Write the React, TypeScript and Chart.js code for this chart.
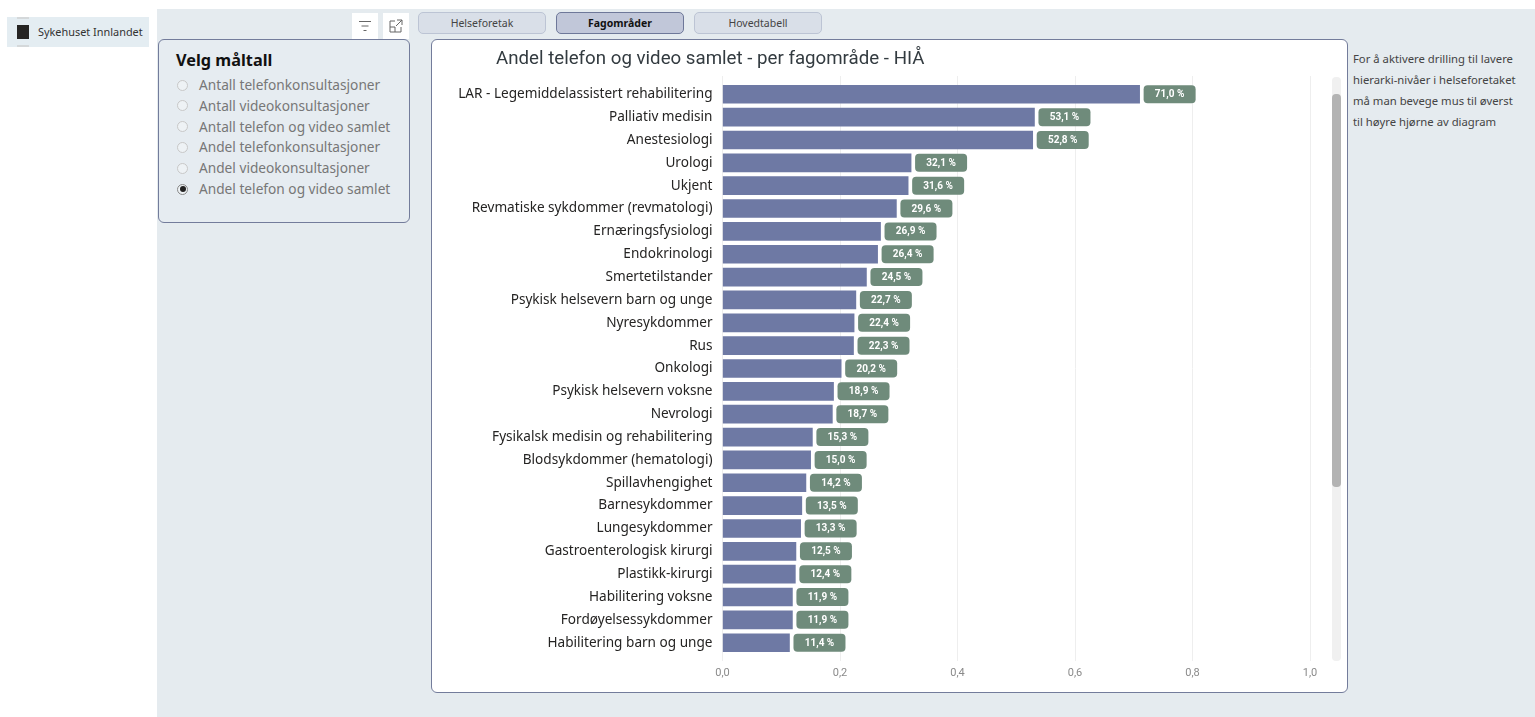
import React, { useEffect, useRef } from "react";
import { Chart, registerables } from "chart.js";

Chart.register(...registerables);

const categories = [
  "LAR - Legemiddelassistert rehabilitering", "Palliativ medisin", "Anestesiologi", "Urologi", "Ukjent",
  "Revmatiske sykdommer (revmatologi)", "Ernæringsfysiologi", "Endokrinologi", "Smertetilstander",
  "Psykisk helsevern barn og unge", "Nyresykdommer", "Rus", "Onkologi", "Psykisk helsevern voksne",
  "Nevrologi", "Fysikalsk medisin og rehabilitering", "Blodsykdommer (hematologi)", "Spillavhengighet",
  "Barnesykdommer", "Lungesykdommer", "Gastroenterologisk kirurgi", "Plastikk-kirurgi",
  "Habilitering voksne", "Fordøyelsessykdommer", "Habilitering barn og unge",
];
const shares = [
  0.71, 0.531, 0.528, 0.321, 0.316, 0.296, 0.269, 0.264, 0.245, 0.227, 0.224, 0.223, 0.202,
  0.189, 0.187, 0.153, 0.15, 0.142, 0.135, 0.133, 0.125, 0.124, 0.119, 0.119, 0.114,
];
const measures = [
  "Antall telefonkonsultasjoner", "Antall videokonsultasjoner", "Antall telefon og video samlet",
  "Andel telefonkonsultasjoner", "Andel videokonsultasjoner", "Andel telefon og video samlet",
];
const tabs = ["Helseforetak", "Fagområder", "Hovedtabell"];
const noteLines = [
  "For å aktivere drilling til lavere", "hierarki-nivåer i helseforetaket",
  "må man bevege mus til øverst", "til høyre hjørne av diagram",
];
const chartTitle = "Andel telefon og video samlet - per fagområde - HIÅ";

const UI = "'Noto Sans', sans-serif";
const box = (l: number, t: number, w: number, h: number): React.CSSProperties => ({
  position: "absolute", left: l, top: t, width: w, height: h, boxSizing: "border-box",
});

const pct = (v: number) => (v * 100).toFixed(1).replace(".", ",") + " %";

const pillPlugin = {
  id: "pills",
  afterDatasetsDraw(chart: any) {
    const { ctx, scales } = chart;
    ctx.save();
    shares.forEach((v, i) => {
      const x = scales.x.getPixelForValue(v) + 4;
      const y = scales.y.getPixelForValue(i);
      ctx.fillStyle = "#6f8b7b";
      ctx.beginPath();
      ctx.roundRect(x, y - 9, 52, 18, 4);
      ctx.fill();
      ctx.fillStyle = "#ffffff";
      ctx.font = "bold 10px Roboto";
      ctx.textAlign = "center";
      ctx.textBaseline = "middle";
      ctx.fillText(pct(v), x + 26, y + 0.5);
    });
    ctx.restore();
  },
};

const titleShift = {
  id: "titleShift",
  afterLayout(chart: any) {
    chart.titleBlock.left = 63;
  },
};

export default function App() {
  const ref = useRef<HTMLCanvasElement>(null);
  useEffect(() => {
    const chart = new Chart(ref.current!, {
      type: "bar",
      data: {
        datasets: [{
          data: shares.map((v, i) => ({ x: v, y: i })) as any,
          backgroundColor: "#6e79a4",
          barThickness: 18,
        }],
      },
      plugins: [pillPlugin, titleShift],
      options: {
        indexAxis: "y",
        animation: false,
        responsive: false,
        devicePixelRatio: 1,
        layout: { padding: { right: 36, top: 0, bottom: 0, left: 0 } },
        plugins: {
          legend: { display: false },
          tooltip: { enabled: false },
          title: {
            display: true,
            text: chartTitle,
            align: "start",
            color: "#333b40",
            font: { family: "Roboto", size: 18.7, weight: "normal", lineHeight: 20 / 18.7 },
            padding: { top: 8, bottom: 7 },
          },
        },
        scales: {
          x: {
            type: "linear",
            min: 0,
            max: 1,
            border: { display: false },
            grid: { color: "#eeeeee", lineWidth: 1, tickLength: 0, drawTicks: false },
            afterBuildTicks(s: any) {
              s.ticks = [0, 0.2, 0.4, 0.6, 0.8, 1].map((value) => ({ value }));
            },
            ticks: {
              color: "#8a8a8a",
              font: { family: "Roboto", size: 11 },
              padding: 6,
              maxRotation: 0,
              callback: (v: any) => Number(v).toFixed(1).replace(".", ","),
            },
            afterFit(s: any) { s.height = 30; },
          },
          y: {
            type: "linear",
            bounds: "data",
            offset: false,
            reverse: true,
            min: -0.8,
            max: 24.8,
            border: { display: false },
            grid: { display: false },
            afterBuildTicks(s: any) {
              s.ticks = categories.map((_, value) => ({ value }));
            },
            ticks: {
              autoSkip: false,
              color: "#252423",
              font: { family: "Noto Sans", size: 13.6 },
              padding: 2,
              callback: (v: any) => categories[Number(v)] ?? "",
            },
            afterFit(s: any) { s.width = 289.5; },
          },
        },
      },
    });
    return () => chart.destroy();
  }, []);

  return (
    <div style={{ position: "fixed", inset: 0, background: "#fff", overflow: "hidden", fontFamily: UI }}>
      <div style={{ ...box(157, 9, 1378, 708), background: "#e5ebef" }} />

      <div style={{ ...box(7, 17, 142, 30), background: "#e4edf2" }} />
      <div style={{ ...box(17, 17, 12, 2), background: "#d4d8da" }} />
      <div style={{ ...box(17, 25, 12, 14), background: "#252423" }} />
      <div style={{ ...box(17, 45, 12, 2), background: "#d4d8da" }} />
      <div style={{ ...box(38, 24, 110, 16), fontSize: 10.9, lineHeight: "16px", color: "#333", whiteSpace: "nowrap" }}>Sykehuset Innlandet</div>

      <div style={{ ...box(352, 13, 26, 26), background: "#fff" }}>
        <svg width="26" height="26" stroke="#666" strokeWidth="1">
          <path d="M7 8.5H19M9.5 13H16.5M11.5 17.5H14.5" />
        </svg>
      </div>
      <div style={{ ...box(383, 13, 26, 26), background: "#fff" }}>
        <svg width="26" height="26" fill="none" stroke="#666" strokeWidth="1">
          <path d="M12 8H7V19H18V14M14 7H19V12M19 7L13 13M7 14H12V19" />
        </svg>
      </div>

      <div style={{ ...box(158, 39, 252, 184), background: "#e6ecf1", border: "1.5px solid #737c9b", borderRadius: 6 }} />
      <div style={{ ...box(176, 49, 200, 22), fontSize: 16.3, fontWeight: 700, lineHeight: "22px", color: "#111" }}>Velg måltall</div>
      {measures.map((m, i) => {
        const y = 85 + i * 20.8;
        const on = i === measures.length - 1;
        return (
          <React.Fragment key={m}>
            <div style={{ ...box(177, y - 5.5, 11, 11), borderRadius: "50%", background: "#eef2f5", border: on ? "1px solid #888" : "1px solid #c8c8c8" }} />
            {on && <div style={{ ...box(179.5, y - 3, 6, 6), borderRadius: "50%", background: "#222" }} />}
            <div style={{ ...box(199, y - 10, 205, 20), fontSize: 13.7, lineHeight: "20px", color: "#777", whiteSpace: "nowrap" }}>{m}</div>
          </React.Fragment>
        );
      })}

      {tabs.map((t, i) => {
        const on = i === 1;
        const left = [418, 556, 694][i];
        return (
          <div key={t} style={{
            ...box(left, 12, 128, 22), borderRadius: 5, textAlign: "center", fontSize: 10.5, lineHeight: "21px",
            background: on ? "#c1c7d9" : "#d9dfe8", border: on ? "1.5px solid #6e7899" : "1px solid #bcc4d4",
            color: on ? "#111" : "#444", fontWeight: on ? 700 : 400,
          }}>{t}</div>
        );
      })}

      <div style={{ ...box(431, 39, 917, 654), background: "#fff", border: "1.5px solid #737c9b", borderRadius: 6 }} />
      <canvas ref={ref} width={913} height={650} style={{ ...box(433, 41, 913, 650), display: "block" }} />
      <div style={{ ...box(1332, 77, 9, 584), background: "#f0f0f0", borderRadius: 4 }} />
      <div style={{ ...box(1332, 94, 9, 393), background: "#b3b3b3", borderRadius: 4 }} />

      {noteLines.map((line, i) => (
        <div key={line} style={{ ...box(1353, 49 + i * 21, 180, 20), fontSize: 11.3, lineHeight: "20px", color: "#444", whiteSpace: "nowrap" }}>{line}</div>
      ))}
    </div>
  );
}
